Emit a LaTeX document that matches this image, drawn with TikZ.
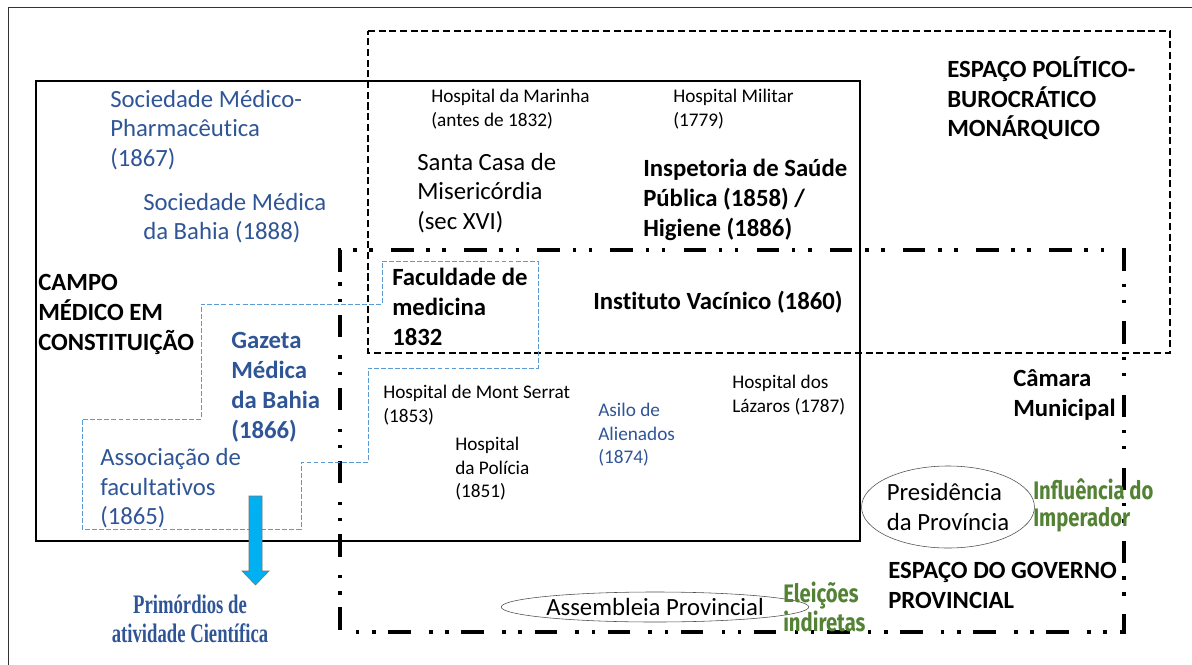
\documentclass[tikz,border=0pt]{standalone}
\usepackage{fontspec}
\setmainfont{Carlito}[Ligatures=NoCommon]
\newfontfamily\narrowsans[FakeStretch=0.8]{Fira Sans}
\newfontfamily\narrowserif[FakeStretch=0.7]{Liberation Serif}
\usetikzlibrary{shapes.geometric}

\definecolor{textblue}{RGB}{47,85,151}
\definecolor{lineblue}{RGB}{91,155,213}
\definecolor{arrowcyan}{RGB}{0,176,240}
\definecolor{olivegreen}{RGB}{84,130,53}

\tikzset{
    txt/.style={anchor=north west, inner sep=0pt, align=left,
        font=\fontsize{17.6}{21}\selectfont},
    boldtxt/.style={txt, font=\fontsize{17.6}{21.3}\selectfont\bfseries},
    bluetxt/.style={txt, text=textblue},
    smalltxt/.style={txt, font=\fontsize{13.7}{16.8}\selectfont},
    greentxt/.style={txt, text=olivegreen,
        font=\fontsize{18}{19.2}\selectfont\narrowsans\bfseries},
    bubble/.style={ellipse, draw=black!70, thin, inner sep=0pt}
}

\begin{document}
\begin{tikzpicture}[x=0.025cm, y=-0.025cm]
        \useasboundingbox (0,0) rectangle (1192,665);

        % Slide frame
        \draw [black!80, thin] (8,665) -- (8,7) -- (1192,7);

        % Medical field and the two spaces
        \draw [line width=0.8pt] (36,81) rectangle (860,541);
        \draw [line width=2pt, dash pattern=on 5pt off 2.6pt]
            (368,31) -- (1170,31) -- (1170,353) -- (368,353) -- cycle;
        \draw [line width=2.6pt, dash pattern=on 16pt off 9pt on 2.5pt off 9pt on 2.5pt off 13pt]
            (340,272) -- (340,250) -- (1124,250) -- (1124,632) -- (340,632) -- cycle;

        % Scientific activity (blue dashed outline)
        \draw [lineblue, line width=0.7pt, dash pattern=on 3.5pt off 1.5pt]
            (382,261) -- (538,261) -- (538,368) -- (368,368) -- (368,462) -- (301,462)
            -- (301,529) -- (82,529) -- (82,419) -- (201,419) -- (201,304) -- (382,304) -- cycle;

        % Arrow down
        \draw [fill=arrowcyan, draw=black!55, thin]
            (249,496) -- (262,496) -- (262,571) -- (269,571) -- (255.5,585)
            -- (242,571) -- (249,571) -- cycle;

        % Medical field
        \node [bluetxt] (socmp) at (110,90) {Sociedade Médico-\\Pharmacêutica\\(1867)};
        \node [bluetxt] (socmb) at (143,193) {Sociedade Médica\\da Bahia (1888)};
        \node [boldtxt] (campo) at (38,274) {CAMPO\\MÉDICO EM\\CONSTITUIÇÃO};
        \node [boldtxt, text=textblue] (gazeta) at (231,332) {Gazeta\\Médica\\da Bahia\\(1866)};
        \node [bluetxt] (assoc) at (100,448) {Associação de\\facultativos\\(1865)};
        \node [anchor=north, inner sep=0pt, align=center, text=textblue,
            font=\fontsize{19}{20.6}\selectfont\narrowserif\bfseries]
            (primordios) at (190,595) {Primórdios de\\atividade Científica};

        % Political-bureaucratic space
        \node [smalltxt] (marinha) at (431,89) {Hospital da Marinha\\(antes de 1832)};
        \node [smalltxt] (militar) at (673,89) {Hospital Militar\\(1779)};
        \node [txt] (santacasa) at (417,153) {Santa Casa de\\Misericórdia\\(sec XVI)};
        \node [boldtxt] (inspetoria) at (643,159) {Inspetoria de Saúde\\Pública (1858) /\\Higiene (1886)};
        \node [boldtxt] (faculdade) at (392,268) {Faculdade de\\medicina\\1832};
        \node [boldtxt] (vacinico) at (593,291) {Instituto Vacínico (1860)};
        \node [boldtxt] (politico) at (947,56) {ESPAÇO POLÍTICO-\\BUROCRÁTICO\\MONÁRQUICO};

        % Provincial government space
        \node [boldtxt] (camara) at (1013,369) {Câmara\\Municipal};
        \node [smalltxt] (montserrat) at (383,385) {Hospital de Mont Serrat\\(1853)};
        \node [smalltxt] (policia) at (455,437) {Hospital\\da Polícia\\(1851)};
        \node [smalltxt, text=textblue] (asilo) at (598,403) {Asilo de\\Alienados\\(1874)};
        \node [smalltxt] (lazaros) at (732,375) {Hospital dos\\Lázaros (1787)};
        \node [bubble, align=left, font=\fontsize{17.6}{21}\selectfont,
            minimum width=4.25cm, minimum height=2.05cm]
            (presidencia) at (948,507) {Presidência\\da Província};
        \node [greentxt] (influencia) at (1033,478) {Influência do\\Imperador};
        \node [boldtxt] (governo) at (888,562) {ESPAÇO DO GOVERNO\\PROVINCIAL};
        \node [bubble, font=\fontsize{17.6}{21}\selectfont,
            minimum width=7.6cm, minimum height=0.75cm]
            (assembleia) at (655,607) {Assembleia Provincial};
        \node [greentxt] (eleicoes) at (783,582) {Eleições\\indiretas};
    \end{tikzpicture}
\end{document}
